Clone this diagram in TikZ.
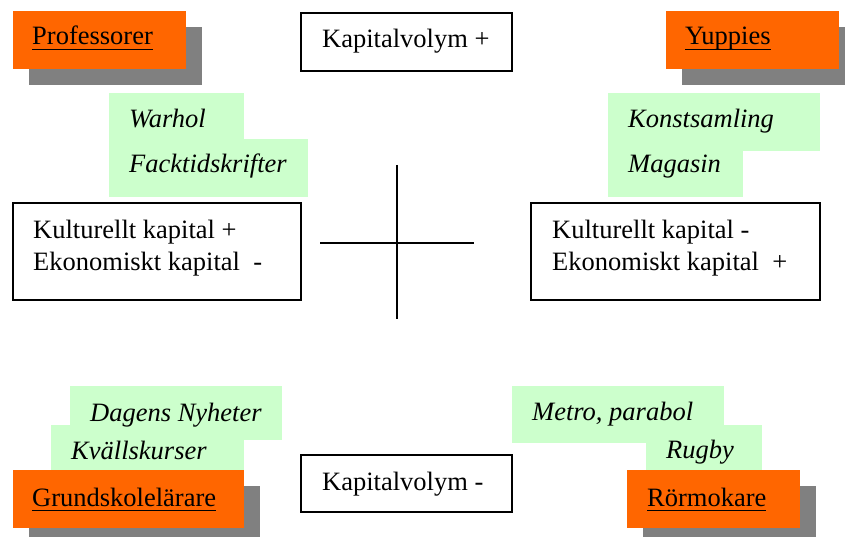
\documentclass[tikz,border=0pt]{standalone}
\usepackage{fontspec}
\setmainfont{Liberation Serif}
\definecolor{orng}{HTML}{FF6600}
\definecolor{shgray}{HTML}{808080}
\definecolor{lgreen}{HTML}{CCFFCC}
\newcommand\myul[1]{\setbox0\hbox{#1}\rlap{\rule[-5pt]{\wd0}{1.4pt}}\box0}
\begin{document}
\begin{tikzpicture}[x=1pt,y=-1pt,
  txt/.style={inner sep=0pt,anchor=base west,font=\fontsize{26.5}{31}\selectfont},
  itxt/.style={txt,font=\fontsize{26.5}{31}\selectfont\itshape},
  framebox/.style={draw=black,line width=1.5pt,fill=white},
  axis/.style={draw=black,line width=1.3pt}]
\useasboundingbox (0,0) rectangle (845,537);
% --- top left: Professorer
\fill[shgray] (29,27) rectangle (202,85);
\fill[orng] (13,11) rectangle (186,69);
\node[txt] (prof) at (32,45) {\myul{Professorer}};
\fill[lgreen] (109,93) rectangle (244,139);
\fill[lgreen] (109,139) rectangle (308,197);
\node[itxt] (warhol) at (129,128) {Warhol};
\node[itxt] (fack) at (129,173) {Facktidskrifter};
% --- top right: Yuppies
\fill[shgray] (682,27) rectangle (855,85);
\fill[orng] (666,11) rectangle (839,69);
\node[txt] (yup) at (685,45) {\myul{Yuppies}};
\fill[lgreen] (608,93) rectangle (820,151);
\fill[lgreen] (608,151) rectangle (743,197);
\node[itxt] (konst) at (628,128) {Konstsamling};
\node[itxt] (mag) at (628,173) {Magasin};
% --- Kapitalvolym boxes
\draw[framebox] (301,13) rectangle (512,71);
\node[txt] (kvplus) at (322,48) {Kapitalvolym +};
\draw[framebox] (301,455) rectangle (512,512);
\node[txt] (kvminus) at (322,490) {Kapitalvolym -};
% --- side boxes
\draw[framebox] (13,203) rectangle (301,300);
\node[txt] (kl1) at (33,239) {Kulturellt kapital +};
\node[txt] (kl2) at (33,270) {Ekonomiskt kapital\ \ -};
\draw[framebox] (531,203) rectangle (820,300);
\node[txt] (kr1) at (552,239) {Kulturellt kapital -};
\node[txt] (kr2) at (552,270) {Ekonomiskt kapital\ \ +};
% --- cross
\coordinate (hl) at (320,243);
\coordinate (hr) at (474,243);
\coordinate (vt) at (397,165);
\coordinate (vb) at (397,319);
\draw[axis] (hl) -- (hr);
\draw[axis] (vt) -- (vb);
% --- bottom left: Grundskolelärare
\fill[lgreen] (70,386) rectangle (282,440);
\fill[lgreen] (51,425) rectangle (244,470);
\node[itxt] (dn) at (90,421) {Dagens Nyheter};
\node[itxt] (kvk) at (71,459) {Kvällskurser};
\fill[shgray] (29,486) rectangle (260,545);
\fill[orng] (13,470) rectangle (244,528);
\node[txt] (grund) at (32,506) {\myul{Grundskolelärare}};
% --- bottom right: Rörmokare
\fill[lgreen] (512,386) rectangle (724,443);
\fill[lgreen] (646,425) rectangle (762,470);
\node[itxt] (metro) at (532,420) {Metro, parabol};
\node[itxt] (rugby) at (666,458) {Rugby};
\fill[shgray] (643,486) rectangle (816,545);
\fill[orng] (627,470) rectangle (800,528);
\node[txt] (ror) at (647,506) {\myul{Rörmokare}};
\end{tikzpicture}
\end{document}
